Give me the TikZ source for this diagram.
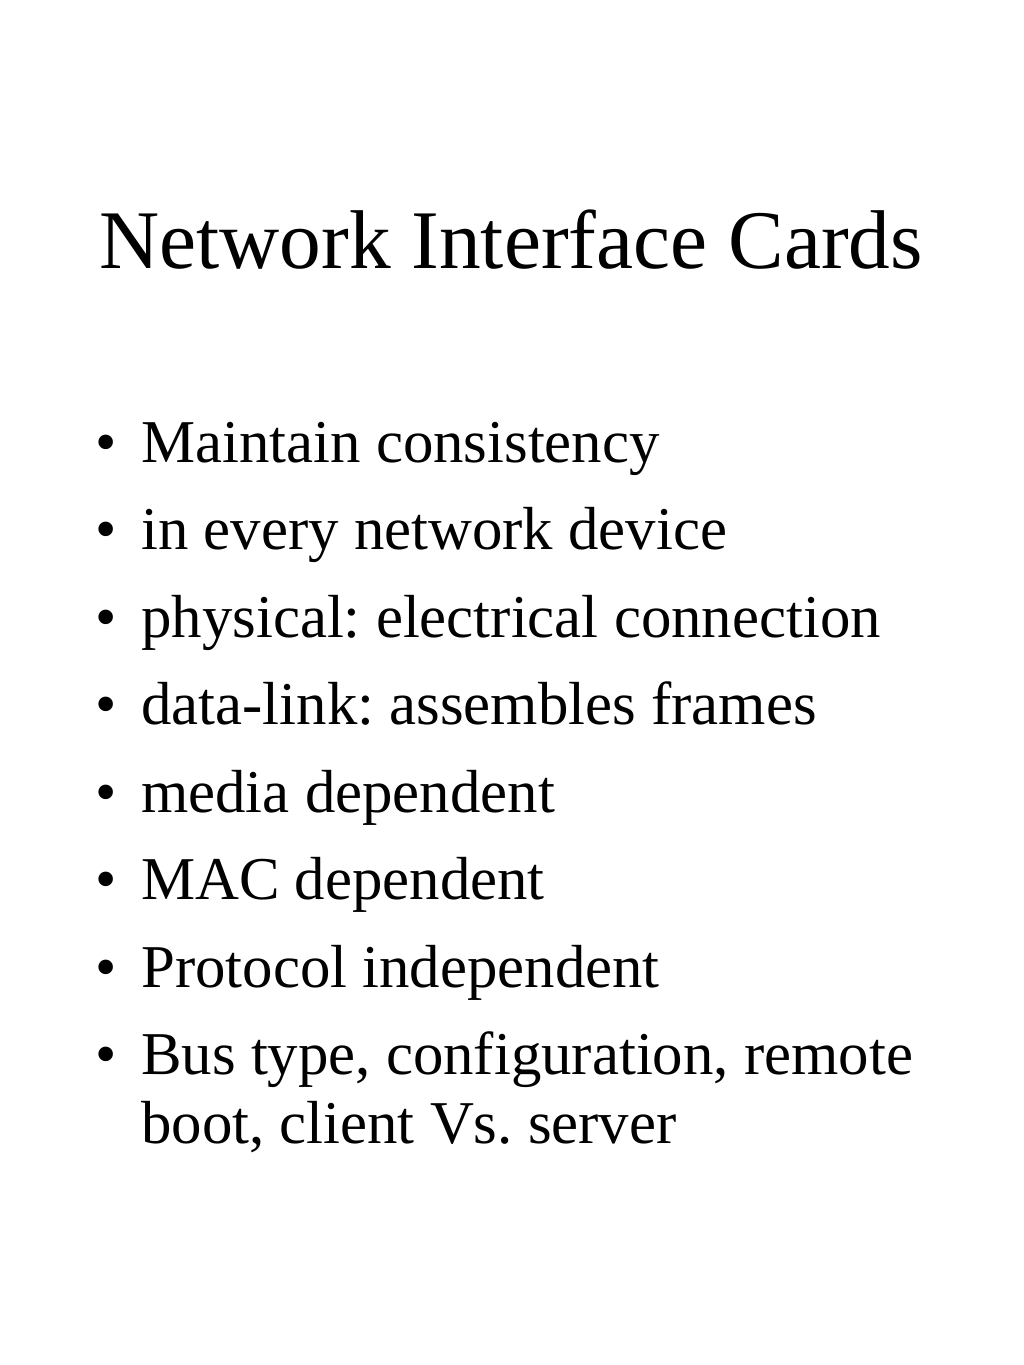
\documentclass[tikz,border=0pt]{standalone}
\usepackage{fontspec}
\setmainfont{Liberation Serif}
\frenchspacing
\begin{document}
\begin{tikzpicture}[x=0.75pt,y=-0.75pt,
  titletext/.style={anchor=base,inner sep=0pt,font=\fontsize{62.5}{70}\selectfont},
  bullettext/.style={anchor=base west,inner sep=0pt,font=\fontsize{45.6}{54}\selectfont},
  bulletmark/.style={anchor=base,inner sep=0pt,font=\fontsize{45.6}{54}\selectfont}]
\useasboundingbox[fill=white] (0,0) rectangle (1024,1365);
\node[titletext] (title) at (511,268) {Network Interface Cards};
\foreach \i/\y/\t in {1/462/Maintain consistency,2/549/in every network device,3/637/physical: electrical connection,4/724/data-link: assembles frames,5/812/media dependent,6/899/MAC dependent,7/987/Protocol independent,8/1074/{Bus type, configuration, remote}}{
  \node[bulletmark] (b\i) at (106,\y) {\textbullet};
  \node[bullettext] (t\i) at (141,\y) {\t};
}
\node[bullettext] (t9) at (141,1143) {boot, client Vs. server};
\end{tikzpicture}
\end{document}
